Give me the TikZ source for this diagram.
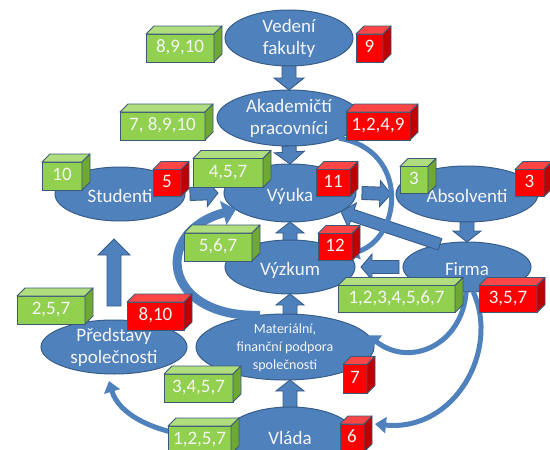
\documentclass[tikz,border=0pt]{standalone}
\usepackage{fontspec}
\setmainfont{Carlito}
\usetikzlibrary{shapes.geometric,arrows.meta,calc}
\definecolor{ellfill}{RGB}{79,129,189}
\definecolor{elledge}{RGB}{56,93,138}
\definecolor{gfront}{RGB}{146,208,80}
\definecolor{gtop}{RGB}{176,222,126}
\definecolor{gside}{RGB}{112,168,52}
\definecolor{rfront}{RGB}{255,0,0}
\definecolor{rtop}{RGB}{255,70,70}
\definecolor{rside}{RGB}{190,0,0}
\definecolor{boxedge}{RGB}{60,90,120}
\definecolor{txt}{RGB}{245,245,245}
\newcommand\etext[1]{\makebox[0pt]{\smash{\raisebox{-0.3em}{\begin{tabular}{@{}c@{}}#1\end{tabular}}}}}
\newcommand\otext[1]{\makebox[0pt]{\smash{\raisebox{-0.45em}{#1}}}}
\newcommand\cubefaces[3]{%
  \filldraw[fill=#2, draw=boxedge, line width=0.9pt, line join=round]
    (#1.north west) -- ++(8pt,8pt) -- ([shift={(8pt,8pt)}]#1.north east) -- (#1.north east) -- cycle;
  \filldraw[fill=#3, draw=boxedge, line width=0.9pt, line join=round]
    (#1.north east) -- ([shift={(8pt,8pt)}]#1.north east) -- ([shift={(8pt,8pt)}]#1.south east) -- (#1.south east) -- cycle;
}
\newcommand\barrow[5]{%
  \path (#1); \pgfgetlastxy{\bax}{\bay}%
  \path (#2); \pgfgetlastxy{\bbx}{\bby}%
  \pgfmathsetmacro\baang{atan2(\bby-\bay,\bbx-\bax)}%
  \pgfmathsetmacro\balen{veclen(\bbx-\bax,\bby-\bay)}%
  \pgfmathsetmacro\bab{\balen-#5}%
  \filldraw[fill=ellfill, draw=elledge, line width=0.9pt, line join=miter, shift={(\bax,\bay)}, rotate=\baang]
    (0pt,#3pt) -- (\bab pt,#3pt) -- (\bab pt,#4pt) -- (\balen pt,0pt) -- (\bab pt,-#4pt) -- (\bab pt,-#3pt) -- (0pt,-#3pt) -- cycle;
}
\tikzset{
  ell/.style={ellipse, draw=elledge, fill=ellfill, line width=1pt, inner sep=0pt, outer sep=0pt, text=txt, font=\fontsize{19}{22}\selectfont},
  gbox/.style={rectangle, draw=boxedge, fill=gfront, line width=0.9pt, inner sep=0pt, outer sep=0pt, text=txt, font=\fontsize{19}{22}\selectfont, text height=12pt, text depth=3pt},
  rbox/.style={gbox, fill=rfront},
  curv/.style={draw=ellfill, line width=5pt, -{Triangle[width=16pt,length=11pt]}},
  curvthick/.style={draw=ellfill, line width=9pt, -{Triangle[width=24pt,length=13pt]}}
}
\begin{document}
\begin{tikzpicture}[x=1pt,y=-1pt]
\clip (0,0) rectangle (550,450);
\fill[white] (0,0) rectangle (550,450);
% ellipses
\node[ell, minimum width=128pt, minimum height=56pt] (ved) at (289,38) {\etext{Vedení\\fakulty}};
\node[ell, minimum width=144pt, minimum height=56pt] (aka) at (289,118) {\etext{Akademičtí\\pracovníci}};
\node[ell, minimum width=132pt, minimum height=58pt] (vyu) at (290,193) {\otext{Výuka}};
\node[ell, minimum width=130pt, minimum height=54pt] (stu) at (120,194) {\otext{Studenti}};
\node[ell, minimum width=142pt, minimum height=56pt] (abs) at (467,194) {\otext{Absolventi}};
\node[ell, minimum width=128pt, minimum height=50pt] (fir) at (467,267) {\otext{Firma}};
\node[ell, minimum width=130pt, minimum height=54pt] (vyz) at (290,267) {\otext{Výzkum}};
\node[ell, minimum width=178pt, minimum height=66pt, font=\fontsize{14}{18}\selectfont] (mat) at (285,347) {\etext{Materiální,\\finanční podpora\\společnosti}};
\node[ell, minimum width=146pt, minimum height=54pt] (pre) at (114,347) {\etext{Představy\\společnosti}};
\node[ell, minimum width=130pt, minimum height=58pt] (vla) at (290,436) {\otext{Vláda}};
% straight block arrows
\barrow{ved.south}{aka.north}{7}{15}{12}
\barrow{aka.south}{vyu.north}{7}{15}{12}
\barrow{$(stu.east)+(5,0)$}{$(vyu.west)+(-6,0)$}{6.5}{13}{11}
\barrow{$(vyu.east)+(6,0)$}{$(abs.west)+(-5,0)$}{6.5}{13}{11}
\barrow{abs.south}{fir.north}{7}{14}{11}
\barrow{fir.140}{vyu.-20}{6}{13}{12}
\barrow{$(fir.west)+(-4,0)$}{$(vyz.east)+(6,0)$}{6.5}{13}{11}
\barrow{vyz.north}{vyu.south}{7}{14}{11}
\barrow{vyz.south |- mat.north}{vyz.south}{7}{14}{11}
\barrow{vla.north}{vla.north |- mat.south}{7}{14}{11}
\coordinate (pbase) at ($(pre.north)+(0,-14)$);
\coordinate (ptop) at ($(stu.south)+(0,18)$);
\barrow{pbase}{pbase |- ptop}{7}{16}{16}
% curved arrows
\coordinate (vtip) at ($(vla.east)+(20,-12)$);
\coordinate (ptip) at ($(pre.south)+(-5,7)$);
\draw[curv] (aka.-22) .. controls (410,150) and (402,238) .. (vyz.12);
\draw[curvthick] (mat.128) .. controls (162,318) and (152,232) .. (vyu.197);
\draw[curv] (fir.-92) .. controls (462,345) and (410,368) .. (mat.8);
\draw[curv] (fir.-76) .. controls (500,350) and (455,432) .. (vtip);
\draw[curv] (vla.183) .. controls (150,436) and (118,412) .. (ptip);
% boxes
\node[gbox, minimum width=68pt, minimum height=28pt] (g1) at (180,48) {8,9,10}; \cubefaces{g1}{gtop}{gside}
\node[rbox, minimum width=27pt, minimum height=28pt] (r1) at (369.5,48) {9}; \cubefaces{r1}{rtop}{rside}
\node[gbox, minimum width=85pt, minimum height=28pt] (g2) at (162.5,126) {7, 8,9,10}; \cubefaces{g2}{gtop}{gside}
\node[rbox, minimum width=64pt, minimum height=28pt] (r2) at (378,126) {1,2,4,9}; \cubefaces{r2}{rtop}{rside}
\node[gbox, minimum width=40pt, minimum height=28pt] (g3) at (62,176) {10}; \cubefaces{g3}{gtop}{gside}
\node[rbox, minimum width=28pt, minimum height=27pt] (r3) at (167,183) {5}; \cubefaces{r3}{rtop}{rside}
\node[gbox, minimum width=70pt, minimum height=29pt] (g4) at (228,173) {4,5,7}; \cubefaces{g4}{gtop}{gside}
\node[rbox, minimum width=34pt, minimum height=27pt] (r4) at (333,183) {11}; \cubefaces{r4}{rtop}{rside}
\node[gbox, minimum width=28pt, minimum height=27pt] (g5) at (414,180) {3}; \cubefaces{g5}{gtop}{gside}
\node[rbox, minimum width=29pt, minimum height=27pt] (r5) at (529.5,183) {3}; \cubefaces{r5}{rtop}{rside}
\node[gbox, minimum width=68pt, minimum height=28pt] (g6) at (218,247) {5,6,7}; \cubefaces{g6}{gtop}{gside}
\node[rbox, minimum width=34pt, minimum height=27pt] (r6) at (335,247) {12}; \cubefaces{r6}{rtop}{rside}
\node[gbox, minimum width=117pt, minimum height=27pt] (g7) at (396.5,299) {1,2,3,4,5,6,7}; \cubefaces{g7}{gtop}{gside}
\node[rbox, minimum width=58pt, minimum height=27pt] (r7) at (508,299) {3,5,7}; \cubefaces{r7}{rtop}{rside}
\node[gbox, minimum width=68pt, minimum height=28pt] (g8) at (51,310) {2,5,7}; \cubefaces{g8}{gtop}{gside}
\node[rbox, minimum width=57pt, minimum height=28pt] (r8) at (155.5,316) {8,10}; \cubefaces{r8}{rtop}{rside}
\node[gbox, minimum width=69pt, minimum height=28pt] (g9) at (198.5,388) {3,4,5,7}; \cubefaces{g9}{gtop}{gside}
\node[rbox, minimum width=24pt, minimum height=29pt] (r9) at (355,379) {7}; \cubefaces{r9}{rtop}{rside}
\node[gbox, minimum width=63pt, minimum height=28pt] (g10) at (199.5,440) {1,2,5,7}; \cubefaces{g10}{gtop}{gside}
\node[rbox, minimum width=24pt, minimum height=28pt] (r10) at (352,438) {6}; \cubefaces{r10}{rtop}{rside}
\end{tikzpicture}
\end{document}
